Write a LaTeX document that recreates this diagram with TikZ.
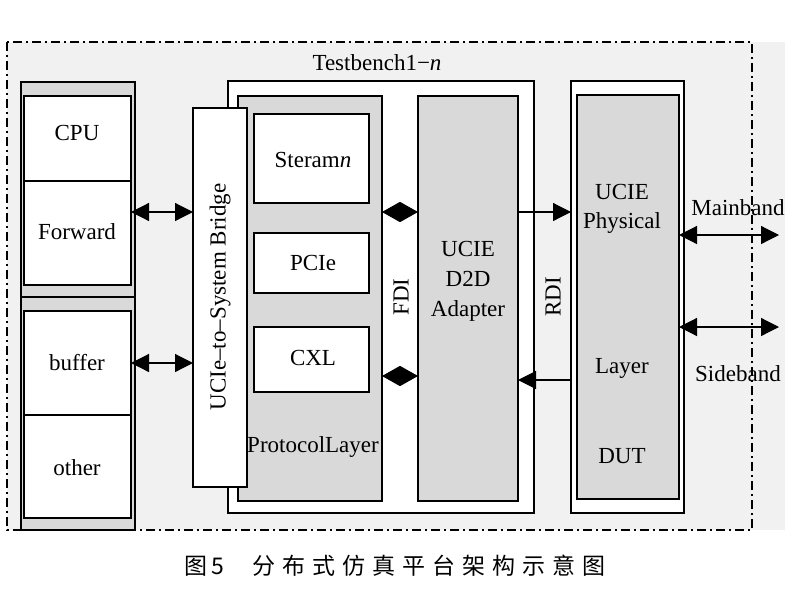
\documentclass[tikz,border=0pt]{standalone}
\usepackage{fontspec}
\setmainfont{Liberation Serif}
\newfontfamily\cjk{Noto Sans CJK SC}
\usetikzlibrary{arrows.meta}
\definecolor{bgc}{HTML}{F1F1F1}
\definecolor{gbox}{HTML}{D9D9D9}
\newcommand{\ck}{\kern7pt}
\tikzset{
  grayb/.style={draw=black, line width=1.2pt, fill=gbox},
  whiteb/.style={draw=black, line width=1.2pt, fill=white},
  lbl/.style={font=\fontsize{23}{26}\selectfont, inner sep=0pt, align=center},
  conn/.style={line width=1.2pt, -{Triangle[length=18pt,width=18pt]}},
  dconn/.style={line width=1.2pt, {Triangle[length=18pt,width=18pt]}-{Triangle[length=18pt,width=18pt]}},
  dia/.style={line width=1pt, {Triangle[length=18pt,width=20pt]}-{Triangle[length=18pt,width=20pt]}},
  dashdot/.style={line width=1.2pt, dash pattern=on 9pt off 4pt on 2pt off 4pt}
}
\newcommand{\bx}[6]{\node[#1, minimum width=#4-#2, minimum height=#5-#3, inner sep=0pt, outer sep=0pt, anchor=north west] (#6) at (#2,#3) {};}
\begin{document}
\begin{tikzpicture}[x=1pt,y=-1pt]
\useasboundingbox (0,0) rectangle (800,600);
\fill[bgc] (7,42) rectangle (785,530);
\draw[dashdot] (7,42) rectangle (752,530);
% left column
\bx{grayb}{21}{82}{135}{297}{lefttop}
\bx{grayb}{21}{297}{135}{530}{leftbot}
\bx{whiteb}{24}{96}{131}{181}{cpu}
\bx{whiteb}{24}{181}{131}{285}{fwd}
\bx{whiteb}{24}{311}{131}{415}{buf}
\bx{whiteb}{24}{415}{131}{518}{oth}
\node[lbl] (tcpu) at (77,133) {CPU};
\node[lbl] (tfwd) at (77,232) {Forward};
\node[lbl] (tbuf) at (77,363) {buffer};
\node[lbl] (toth) at (77,468) {other};
% testbench
\bx{whiteb}{228}{81}{534}{513}{tb}
\node[lbl] (ttb) at (377,63) {Testbench1−\textit{n}};
\bx{grayb}{238}{96}{382}{501}{proto}
\bx{whiteb}{193}{108}{247}{487}{bridge}
\node[lbl, rotate=90] (tbridge) at (220,297) {UCIe--to--System Bridge};
\bx{whiteb}{254}{114}{369}{203}{steram}
\bx{whiteb}{254}{233}{369}{293}{pcie}
\bx{whiteb}{254}{327}{369}{392}{cxl}
\node[lbl] (tsteram) at (313,160) {Steram\textit{n}};
\node[lbl] (tpcie) at (313,263) {PCIe};
\node[lbl] (tcxl) at (313,358) {CXL};
\node[lbl] (tproto) at (313,447) {ProtocolLayer};
\bx{grayb}{418}{96}{518}{501}{dtd}
\node[lbl] (tdtd) at (468,281) {UCIE\\[4pt]D2D\\[4pt]Adapter};
\node[lbl, rotate=90] (tfdi) at (401,297) {FDI};
\node[lbl, rotate=90] (trdi) at (553,297) {RDI};
% physical
\bx{whiteb}{571}{81}{684}{513}{physo}
\bx{grayb}{577}{95}{679}{499}{phys}
\node[lbl] (tphys) at (622,209) {UCIE\\[3pt]Physical};
\node[lbl] (tlayer) at (622,368) {Layer};
\node[lbl] (tdut) at (622,456) {DUT};
\node[lbl] (tmain) at (738,208) {Mainband};
\node[lbl] (tside) at (738,374) {Sideband};
\coordinate (mainend) at (779,235);
\coordinate (sideend) at (779,327);
% connectors
\draw[dconn] (fwd.east |- 0,212) -- (bridge.west |- 0,212);
\draw[dconn] (buf.east |- 0,363) -- (bridge.west |- 0,363);
\draw[dia] (proto.east |- 0,212) -- (dtd.west |- 0,212);
\draw[dia] (proto.east |- 0,376) -- (dtd.west |- 0,376);
\draw[conn] (dtd.east |- 0,212) -- (physo.west |- 0,212);
\draw[conn] (physo.west |- 0,380) -- (dtd.east |- 0,380);
\draw[dconn] (phys.east |- mainend) -- (mainend);
\draw[dconn] (phys.east |- sideend) -- (sideend);
% caption
\node[inner sep=0pt, font=\cjk\fontsize{23}{26}\selectfont] (cap) at (395,566) {图\kern4pt 5\kern28pt 分\ck 布\ck 式\ck 仿\ck 真\ck 平\ck 台\ck 架\ck 构\ck 示\ck 意\ck 图};
\end{tikzpicture}
\end{document}
